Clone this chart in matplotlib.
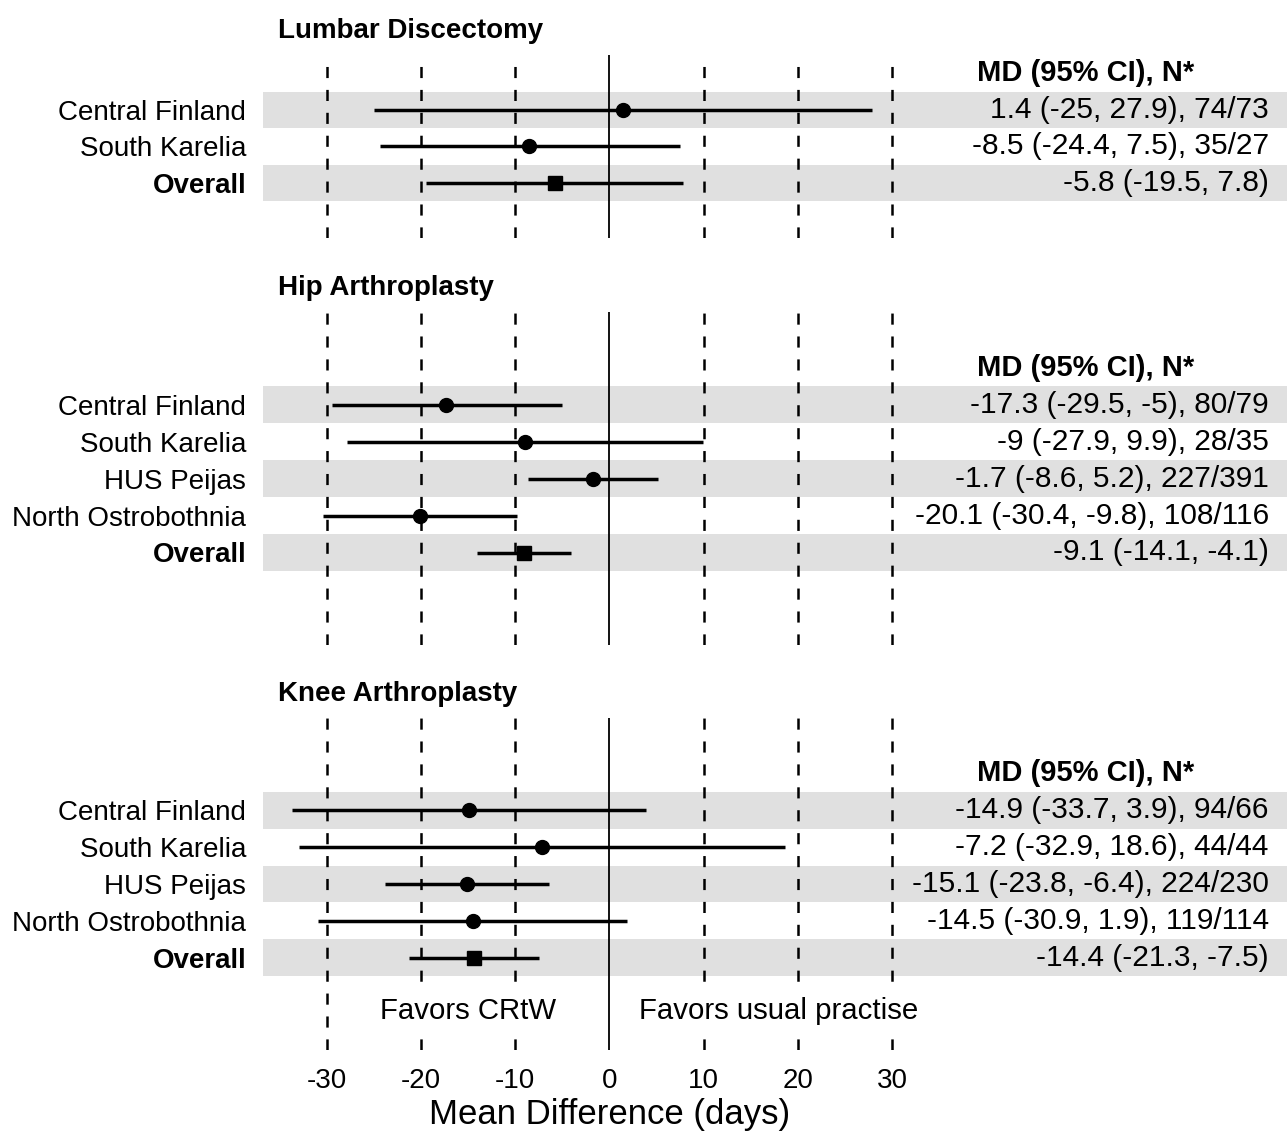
import matplotlib
matplotlib.use("Agg")
import matplotlib.pyplot as plt

plt.rcParams['font.family'] = ['Liberation Sans', 'DejaVu Sans']
plt.rcParams['axes.unicode_minus'] = False
plt.rcParams['lines.scale_dashes'] = False

# --- data ---
lumbar_sites = ["Central Finland", "South Karelia", "Overall"]
lumbar_md = [1.4, -8.5, -5.8]
lumbar_lo = [-25, -24.4, -19.5]
lumbar_hi = [27.9, 7.5, 7.8]
lumbar_n = ["74/73", "35/27", ""]

hip_sites = ["Central Finland", "South Karelia", "HUS Peijas", "North Ostrobothnia", "Overall"]
hip_md = [-17.3, -9, -1.7, -20.1, -9.1]
hip_lo = [-29.5, -27.9, -8.6, -30.4, -14.1]
hip_hi = [-5, 9.9, 5.2, -9.8, -4.1]
hip_n = ["80/79", "28/35", "227/391", "108/116", ""]

knee_sites = ["Central Finland", "South Karelia", "HUS Peijas", "North Ostrobothnia", "Overall"]
knee_md = [-14.9, -7.2, -15.1, -14.5, -14.4]
knee_lo = [-33.7, -32.9, -23.8, -30.9, -21.3]
knee_hi = [3.9, 18.6, -6.4, 1.9, -7.5]
knee_n = ["94/66", "44/44", "224/230", "119/114", ""]

x_ticks = [-30, -20, -10, 0, 10, 20, 30]

W, H = 1287, 1132
fig = plt.figure(figsize=(W / 100, H / 100), dpi=100)

X0, SCALE = 609.4, 9.42       # pixel of x=0, pixels per day
LEFT, RIGHT = 263, 1287
XLIM = ((LEFT - X0) / SCALE, (RIGHT - X0) / SCALE)


def px_axes(top, bottom):
    return fig.add_axes([LEFT / W, 1 - bottom / H, (RIGHT - LEFT) / W, (bottom - top) / H])


def fmt(v):
    return "%g" % v


def draw_panel(ax, title, sites, md, lo, hi, n, head_row, nrows):
    rows = [head_row + 1 + i for i in range(len(sites))]
    for i, r in enumerate(rows):
        if i % 2 == 0:
            ax.axhspan(r - 0.5, r + 0.5, color="#e0e0e0", lw=0, zorder=0)
    for x in x_ticks:
        if x == 0:
            ax.axvline(x, color="black", lw=1.3, zorder=1)
        else:
            ax.axvline(x, color="black", lw=1.8, dashes=(8, 8.5), zorder=1)
    ax.hlines(rows, lo, hi, color="black", lw=2.5, zorder=2)
    for r, m, s in zip(rows, md, sites):
        if s == "Overall":
            ax.plot(m, r, marker="s", ms=9.5, color="black", zorder=3)
        else:
            ax.plot(m, r, marker="o", ms=10, color="black", zorder=3)
    for r, m, a, b, nn in zip(rows, md, lo, hi, n):
        label = "%s (%s, %s)" % (fmt(m), fmt(a), fmt(b))
        if nn:
            label += ", " + nn
        ax.text(70, r, label, ha="right", va="center", fontsize=21.5)
    ax.text(50.6, head_row, "MD (95% CI), N*", ha="center", va="center",
            fontsize=21, fontweight="bold")
    ax.annotate(title, xy=(0, 1), xycoords="axes fraction", xytext=(10.8, 17.5),
                textcoords="offset points", ha="left", va="center",
                fontsize=20, fontweight="bold")
    ax.set_yticks(rows)
    ax.set_yticklabels(sites, fontsize=20)
    for lab in ax.get_yticklabels():
        if lab.get_text() == "Overall":
            lab.set_fontweight("bold")
    ax.tick_params(axis="y", length=0, pad=12)
    ax.set_ylim(nrows - 0.5, -0.5)
    ax.set_xlim(*XLIM)
    for sp in ax.spines.values():
        sp.set_visible(False)
    ax.set_xticks([])


ax1 = px_axes(55, 238)
draw_panel(ax1, "Lumbar Discectomy", lumbar_sites, lumbar_md, lumbar_lo, lumbar_hi, lumbar_n, 0, 5)

ax2 = px_axes(312, 645)
draw_panel(ax2, "Hip Arthroplasty", hip_sites, hip_md, hip_lo, hip_hi, hip_n, 1, 9)

ax3 = px_axes(718, 1050)
draw_panel(ax3, "Knee Arthroplasty", knee_sites, knee_md, knee_lo, knee_hi, knee_n, 1, 9)
ax3.set_xticks(x_ticks)
ax3.set_xticklabels([str(t) for t in x_ticks], fontsize=20)
ax3.tick_params(axis="x", length=0, pad=13)
ax3.set_xlabel("Mean Difference (days)", fontsize=25)
ax3.xaxis.set_label_coords((X0 - LEFT) / (RIGHT - LEFT), -0.145)

box = dict(facecolor="white", edgecolor="none", pad=10)
ax3.text(-15, 7.45, "Favors CRtW", ha="center", va="center", fontsize=21.2, bbox=box, zorder=4)
ax3.text(18, 7.45, "Favors usual practise", ha="center", va="center", fontsize=21.2, bbox=box, zorder=4)

fig.savefig("out.png", dpi=100)
